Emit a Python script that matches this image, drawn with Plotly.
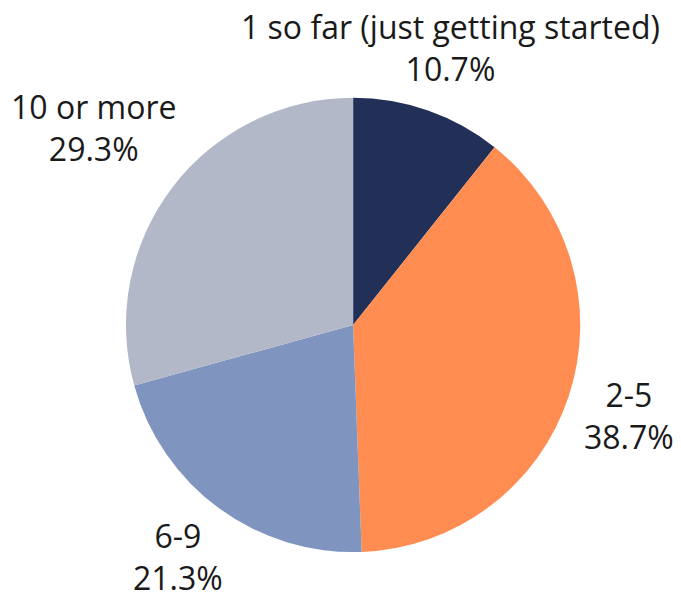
import math
import plotly.graph_objects as go

categories = ["1 so far (just getting started)", "2-5", "6-9", "10 or more"]
shares = [10.7, 38.7, 21.3, 29.3]
colors = ["#223058", "#ff8c50", "#7f95c0", "#b3b8c8"]

W, H = 681, 599
FONT = "Open Sans"
FS = 32
TEXT_COLOR = "#1a1a1a"
DOMAIN_X = [0.185, 0.852]
DOMAIN_Y = [0.077, 0.838]
LABEL_GAP = 9

# approximate Open Sans advance widths (em units) for label measuring
ADV = {
    "0": .572, "1": .572, "2": .572, "3": .572, "4": .572, "5": .572,
    "6": .572, "7": .572, "8": .572, "9": .572, ".": .266, "%": .838,
    "-": .322, " ": .26, "(": .303, ")": .303, "a": .556, "d": .613,
    "e": .561, "f": .344, "g": .537, "i": .25, "j": .25, "m": .925,
    "n": .613, "o": .602, "r": .411, "s": .479, "t": .361, "u": .613,
}


def text_width(s):
    return sum(ADV.get(c, .56) for c in s) * FS


fig = go.Figure(
    go.Pie(
        labels=categories,
        values=shares,
        sort=False,
        direction="clockwise",
        rotation=0,
        marker=dict(colors=colors, line=dict(width=0)),
        textinfo="none",
        automargin=False,
        domain=dict(x=DOMAIN_X, y=DOMAIN_Y),
        showlegend=False,
        hoverinfo="label+percent",
    )
)

# pie geometry in pixels (origin top-left)
cx = (DOMAIN_X[0] + DOMAIN_X[1]) / 2 * W
cy = (1 - (DOMAIN_Y[0] + DOMAIN_Y[1]) / 2) * H
radius = min((DOMAIN_X[1] - DOMAIN_X[0]) * W, (DOMAIN_Y[1] - DOMAIN_Y[0]) * H) / 2

total = sum(shares)
cum = 0.0
annotations = []
for name, val in zip(categories, shares):
    mid = (cum + val / 2) / total * 2 * math.pi
    cum += val
    ux, uy = math.sin(mid), -math.cos(mid)
    pct = f"{val:.1f}%"
    half_w = max(text_width(name), text_width(pct)) / 2
    half_h = 1.3 * FS
    target = radius + LABEL_GAP

    # push the label box outward along the slice's mid-angle until it clears the pie
    def clearance(d):
        bx, by = ux * d, uy * d
        nx = min(max(0.0, bx - half_w), bx + half_w)
        ny = min(max(0.0, by - half_h), by + half_h)
        return math.hypot(nx, ny)

    lo, hi = 0.0, 1000.0
    for _ in range(60):
        m = (lo + hi) / 2
        if clearance(m) < target:
            lo = m
        else:
            hi = m
    px, py = cx + ux * hi, cy + uy * hi
    # keep the whole label box inside the canvas
    px = min(max(px, half_w + 2), W - half_w - 2)
    py = min(max(py, half_h + 1), H - half_h - 1)
    annotations.append(
        dict(
            x=px / W,
            y=1 - py / H,
            xref="paper",
            yref="paper",
            text=f"{name}<br>{pct}",
            showarrow=False,
            xanchor="center",
            yanchor="middle",
            align="center",
            font=dict(family=FONT, size=FS, color=TEXT_COLOR),
        )
    )

fig.update_layout(
    width=W,
    height=H,
    margin=dict(l=0, r=0, t=0, b=0),
    paper_bgcolor="white",
    plot_bgcolor="white",
    annotations=annotations,
)

fig.write_html("out.html")
